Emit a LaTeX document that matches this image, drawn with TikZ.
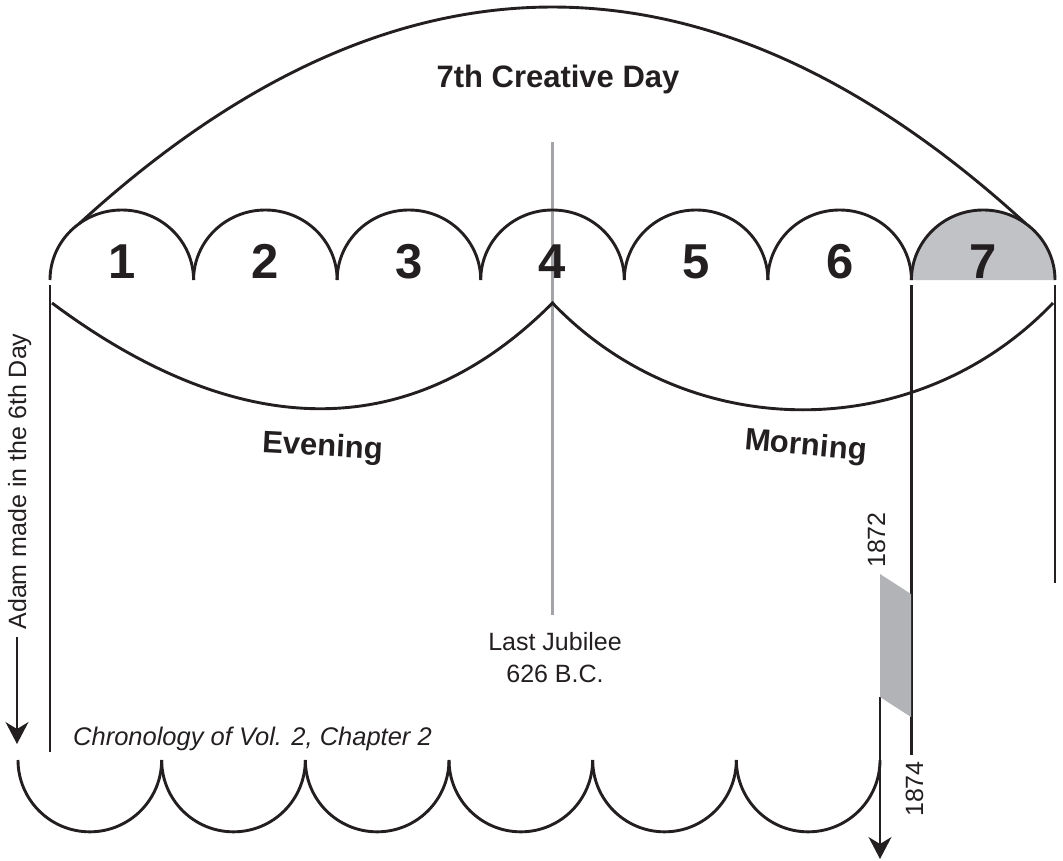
\documentclass[tikz,border=0pt]{standalone}
\usepackage{fontspec}
\setmainfont{Liberation Sans}
\usetikzlibrary{arrows.meta}
\definecolor{ink}{HTML}{231F20}
\definecolor{lightfill}{HTML}{C1C2C5}
\definecolor{darkfill}{HTML}{B2B3B7}
\definecolor{midline}{HTML}{A3A4A8}
\begin{document}
\begin{tikzpicture}[x=1pt,y=-1pt,
  heavy/.style={draw=ink, line width=2.9pt},
  thinline/.style={draw=ink, line width=1.2pt},
  daynum/.style={font=\fontsize{49}{49}\selectfont\bfseries, text=ink, anchor=base, inner sep=0pt},
  boldlabel/.style={font=\fontsize{31}{31}\selectfont\bfseries, text=ink, anchor=base, inner sep=0pt},
  plainlabel/.style={font=\fontsize{25}{25}\selectfont, text=ink, anchor=base, inner sep=0pt},
  tip/.style={-{Stealth[length=22pt,width=23pt,inset=7pt]}}
]
\useasboundingbox (0,0) rectangle (1063,861);

% coordinates
\coordinate (jtop) at (552.5,142);
\coordinate (jbot) at (552.5,615);
\coordinate (eveL) at (52,303);
\coordinate (peak) at (552.5,303);
\coordinate (morR) at (1053,303);
\coordinate (bigL) at (79.5,223.4);
\coordinate (bigR) at (1025.5,223.4);
\coordinate (lt) at (50,285);
\coordinate (lb) at (50,752);
\coordinate (mt) at (911.4,285);
\coordinate (mb) at (911.4,755);
\coordinate (rt) at (1055,285);
\coordinate (rb) at (1055,583);
\coordinate (a1s) at (880,697);
\coordinate (a1e) at (880,859);
\coordinate (a2s) at (17,637);
\coordinate (a2e) at (17,744);

% gray centre line
\draw[midline, line width=2.8pt] (jtop) -- (jbot);

% shaded 7th arc
\fill[lightfill] (911.42,280) arc[start angle=180,end angle=0,x radius=71.79pt,y radius=70pt] -- cycle;

% seven upper arcs
\foreach \i in {0,...,6} {
  \draw[heavy] ({50+\i*143.57},280) arc[start angle=180,end angle=0,x radius=71.79pt,y radius=70pt];
}

% big 7th creative day arc
\draw[heavy] (bigL) .. controls (394.8,-65.1) and (710.2,-65.1) .. (bigR);

% evening / morning arcs
\draw[heavy, line join=miter] (eveL) .. controls (241,444) and (412,444) .. (peak)
   .. controls (689,445.4) and (917,445.4) .. (morR);

% vertical lines
\draw[heavy] (lt) -- (lb);
\draw[heavy] (mt) -- (mb);
\draw[heavy] (rt) -- (rb);

% 1872-1874 band and arrow
\draw[thinline, tip] (a1s) -- (a1e);
\fill[darkfill] (880,574) -- (911,594) -- (911,717) -- (880,697) -- cycle;

% Adam arrow
\draw[thinline, tip] (a2s) -- (a2e);

% six lower arcs
\foreach \i in {0,...,5} {
  \draw[heavy] ({18+\i*143.67},760) arc[start angle=180,end angle=360,radius=71.83pt];
}

% numbers
\foreach \i in {1,...,7} {
  \pgfmathsetmacro\cx{50+(\i-0.5)*143.57}
  \node[daynum] (d\i) at (\cx,278) {\i};
}

% labels
\node[boldlabel] (title) at (558,88) {7th Creative Day};
\node[boldlabel, rotate=-3] (eve) at (322,456) {Evening};
\node[boldlabel, rotate=-5] (mor) at (805,455) {Morning};
\node[plainlabel] (jub1) at (555,650) {Last Jubilee};
\node[plainlabel] (jub2) at (555,682) {626 B.C.};
\node[plainlabel, font=\fontsize{25.5}{25.5}\selectfont\itshape, anchor=base west] (chron) at (73,745) {Chronology of Vol. 2, Chapter 2};
\node[plainlabel, rotate=90] (adam) at (26,481.5) {Adam made in the 6th Day};
\node[plainlabel, rotate=90] (y1872) at (885,540) {1872};
\node[plainlabel, rotate=90] (y1874) at (923,789) {1874};
\end{tikzpicture}
\end{document}
